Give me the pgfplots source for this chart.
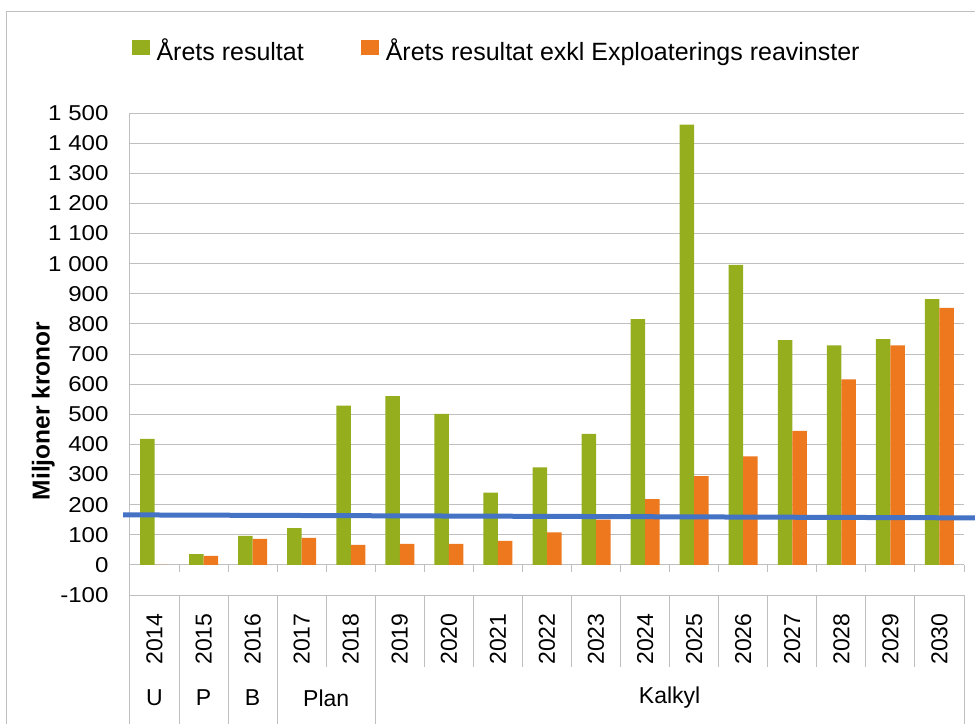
\documentclass[border=0pt]{standalone}
\usepackage{pgfplots}
\pgfplotsset{compat=1.18}
\usepackage{fontspec}
\setmainfont{Liberation Sans}
\newfontfamily\tickfont[FakeStretch=1.12]{Liberation Sans}
\definecolor{grn}{RGB}{148,174,30}
\definecolor{org}{RGB}{238,120,30}
\definecolor{gridc}{RGB}{191,191,191}
\definecolor{bluel}{RGB}{68,114,196}
\begin{document}
\begin{tikzpicture}
\begin{axis}[
    at={(0,0)}, anchor=south west,
    scale only axis, width=834pt, height=482pt,
    ymin=-100, ymax=1500, ytick={-100,0,...,1500},
    xmin=-0.5, xmax=16.5,
    xtick={0,...,16},
    xticklabels={2014,2015,2016,2017,2018,2019,2020,2021,2022,2023,2024,2025,2026,2027,2028,2029,2030},
    major tick length=0pt,
    xticklabel style={anchor=center, yshift=-44pt, rotate=90, font=\fontsize{23}{23}\selectfont},
    yticklabel style={font=\tickfont\fontsize{21.5}{22}\selectfont, xshift=-18pt},
    /pgf/number format/assume math mode=true,
    /pgf/number format/1000 sep={\ },
    ymajorgrids, grid style={gridc, line width=1pt},
    axis x line*=bottom, axis y line*=left,
    axis line style={gridc, line width=1pt},
    ylabel={Miljoner kronor},
    ylabel style={font=\bfseries\fontsize{24.5}{25}\selectfont, at={(axis description cs:-0.104,0.382)}, anchor=center},
    ybar=0pt, bar width=14.5pt,
    clip=false,
    legend style={at={(axis description cs:-0.002,1.162)}, anchor=north west, draw=none, fill=none,
        legend columns=2, font=\fontsize{25}{25}\selectfont,
        /tikz/every even column/.append style={column sep=55pt}},
    legend image code/.code={\fill[#1] (0pt,-4pt) rectangle (18pt,11pt); \path (23pt,0pt);},
]
% Årets resultat
\addplot[fill=grn, draw=none] coordinates {
    (0,418) (1,36) (2,96) (3,122) (4,529) (5,560) (6,501) (7,240) (8,324)
    (9,435) (10,816) (11,1461) (12,996) (13,746) (14,729) (15,749) (16,882)
};
% exkl exploatering
\addplot[fill=org, draw=none] coordinates {
    (0,0) (1,30) (2,86) (3,90) (4,66) (5,70) (6,70) (7,80) (8,108)
    (9,150) (10,218) (11,295) (12,360) (13,445) (14,616) (15,729) (16,853)
};
\legend{Årets resultat, Årets resultat exkl Exploaterings reavinster}
% blue annotation line
\addplot[sharp plot, bluel, line width=5pt, forget plot] coordinates {(-0.64,166) (16.72,156)};

% table below the axis
\draw[gridc, line width=1pt] (axis cs:-0.5,-100) -- ([yshift=-129pt]axis cs:-0.5,-100);
\draw[gridc, line width=1pt] (axis cs:16.5,-100) -- ([yshift=-129pt]axis cs:16.5,-100);
\pgfplotsinvokeforeach{0.5,1.5,...,15.5}{
    \draw[gridc, line width=1pt] (axis cs:#1,-100) -- ([yshift=-72pt]axis cs:#1,-100);
}
\pgfplotsinvokeforeach{0.5,1.5,2.5,4.5}{
    \draw[gridc, line width=1pt] (axis cs:#1,-100) -- ([yshift=-129pt]axis cs:#1,-100);
}
\pgfplotsinvokeforeach{-0.5,0.5,...,16.5}{
    \draw[gridc, line width=1pt] (axis cs:#1,0) -- ([yshift=-7pt]axis cs:#1,0);
}
\node[font=\fontsize{23}{23}\selectfont] at ([yshift=-103pt]axis cs:0,-100) {U};
\node[font=\fontsize{23}{23}\selectfont] at ([yshift=-103pt]axis cs:1,-100) {P};
\node[font=\fontsize{23}{23}\selectfont] at ([yshift=-103pt]axis cs:2,-100) {B};
\node[font=\fontsize{23}{23}\selectfont] at ([yshift=-103pt]axis cs:3.5,-100) {Plan};
\node[font=\fontsize{23}{23}\selectfont] at ([yshift=-103pt]axis cs:10.5,-100) {Kalkyl};
\end{axis}
\draw[gridc, line width=1pt] (-123pt,-129pt) -- (-123pt,583pt) -- (845pt,583pt);
\pgfresetboundingbox
\path[use as bounding box] (-130pt,-129pt) rectangle (845pt,595pt);
\end{tikzpicture}
\end{document}
